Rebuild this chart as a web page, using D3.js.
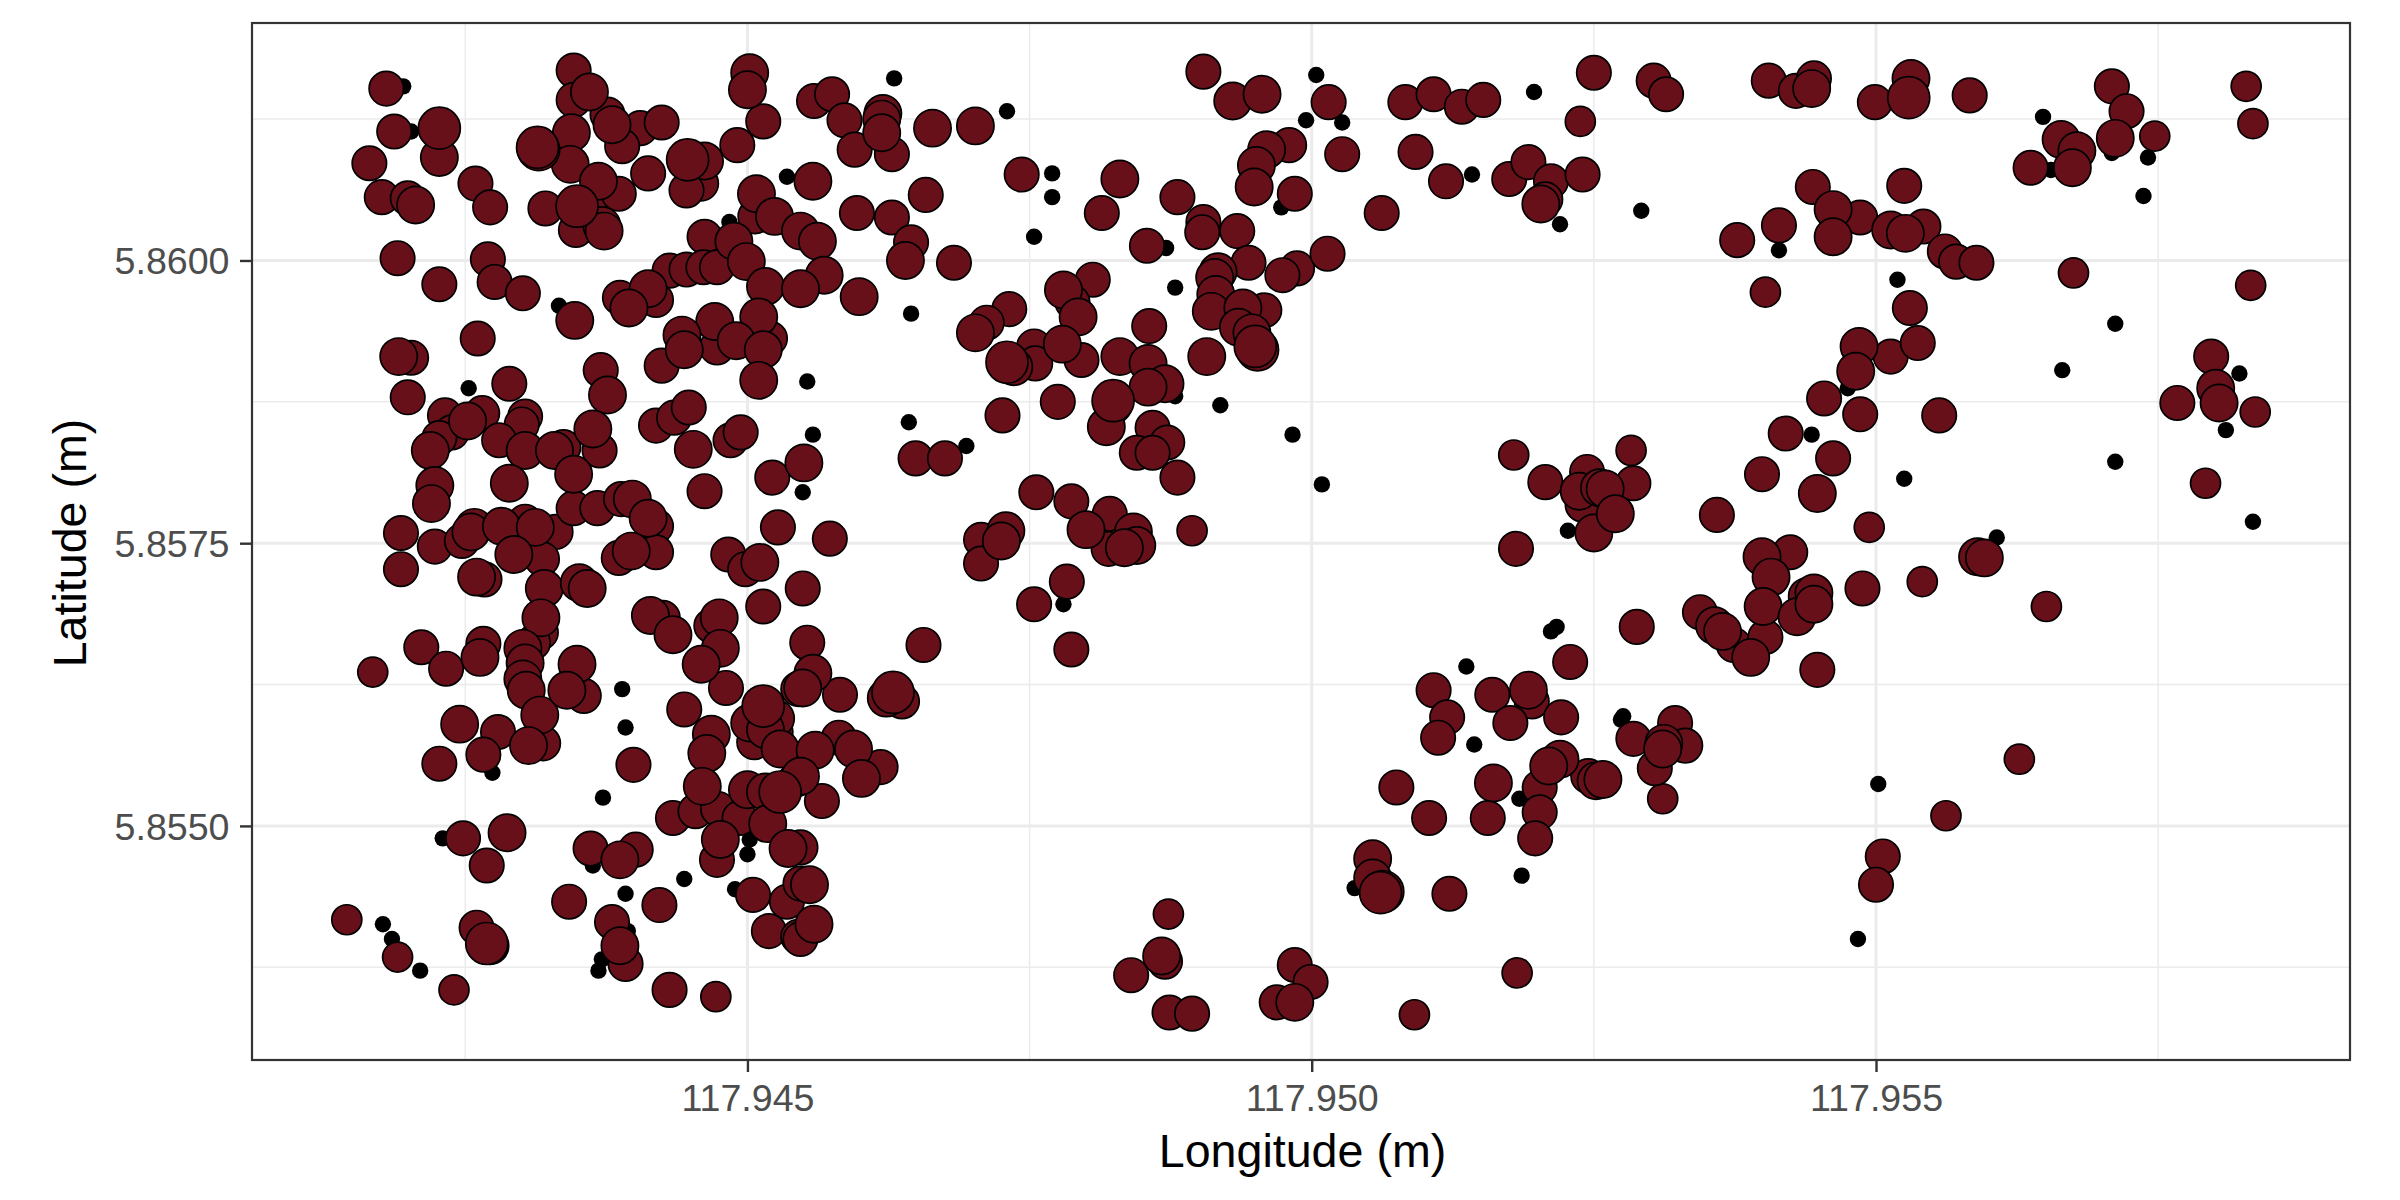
<!DOCTYPE html>
<html><head><meta charset="utf-8">
<script src="https://cdn.jsdelivr.net/npm/d3@7"></script>
<style>html,body{margin:0;padding:0;background:#fff}svg{display:block}text{font-family:"Liberation Sans",Arial,sans-serif}</style>
</head><body><div id="chart"></div>
<script>
const lonTicks=[117.945,117.950,117.955];
const latTicks=[5.855,5.8575,5.860];
const lonMinor=[117.9425,117.9475,117.9525,117.9575];
const latMinor=[5.85375,5.85625,5.85875,5.86125];
const xTitle="Longitude (m)", yTitle="Latitude (m)";
// [longitude, latitude, size class]: 0 smallest … 4 largest
const northWest=[[117.94195,5.86154,0],[117.94180,5.86152,2],[117.94346,5.86168,2],[117.94360,5.86149,3],[117.94346,5.86142,2],[117.94376,5.86129,2],[117.94380,5.86120,3],[117.94405,5.86117,2],[117.94424,5.86122,2],[117.94187,5.86114,2],[117.94227,5.86117,4],[117.94227,5.86091,3],[117.94202,5.86114,0],[117.94165,5.86086,2],[117.94315,5.86098,4],[117.94314,5.86100,4],[117.94344,5.86113,3],[117.94343,5.86085,3],[117.94389,5.86101,2],[117.94412,5.86077,2],[117.94447,5.86089,4],[117.94462,5.86088,3],[117.94459,5.86068,2],[117.94446,5.86062,2],[117.94491,5.86102,2],[117.94502,5.86166,3],[117.94500,5.86151,3],[117.94514,5.86123,2],[117.94535,5.86074,0],[117.94508,5.86059,3],[117.94524,5.86039,3],[117.94507,5.86039,2],[117.94259,5.86068,2],[117.94272,5.86047,2],[117.94176,5.86056,2],[117.94199,5.86055,2],[117.94206,5.86049,3],[117.94321,5.86046,2],[117.94349,5.86048,4],[117.94364,5.86054,2],[117.94368,5.86070,3],[117.94386,5.86059,2],[117.94348,5.86027,2],[117.94371,5.86031,3],[117.94373,5.86026,3],[117.94462,5.86021,2],[117.94488,5.86017,3],[117.94484,5.86034,0],[117.94499,5.85999,3],[117.94190,5.86002,2],[117.94270,5.86001,2],[117.94276,5.85981,2],[117.94227,5.85979,2],[117.94301,5.85971,2],[117.94431,5.85991,2],[117.94446,5.85992,2],[117.94461,5.85994,2],[117.94473,5.85994,2],[117.94412,5.85975,3],[117.94419,5.85965,2],[117.94387,5.85967,2],[117.94395,5.85958,3],[117.94333,5.85960,0],[117.94347,5.85947,3],[117.94516,5.85977,3],[117.94471,5.85946,3],[117.94510,5.85950,3],[117.94442,5.85934,3],[117.94444,5.85921,3],[117.94473,5.85923,2],[117.94490,5.85929,3],[117.94514,5.85921,3],[117.94520,5.85931,2],[117.94510,5.85894,3],[117.94424,5.85907,2],[117.94261,5.85931,2],[117.94191,5.85915,3],[117.94202,5.85914,2],[117.94370,5.85903,2],[117.94376,5.85881,3],[117.94253,5.85887,0],[117.94289,5.85891,2],[117.94199,5.85879,2],[117.94232,5.85863,2],[117.94265,5.85865,2],[117.94252,5.85858,3],[117.94238,5.85848,2],[117.94227,5.85843,2],[117.94219,5.85832,3],[117.94303,5.85862,2],[117.94300,5.85855,2],[117.94280,5.85841,2],[117.94303,5.85832,3],[117.94329,5.85832,3],[117.94337,5.85835,2],[117.94363,5.85851,3],[117.94369,5.85832,2],[117.94346,5.85811,3],[117.94289,5.85803,3],[117.94419,5.85854,2],[117.94435,5.85861,2],[117.94448,5.85870,2],[117.94452,5.85833,3],[117.94485,5.85841,2],[117.94494,5.85848,2],[117.94462,5.85796,2],[117.94522,5.85808,2],[117.94223,5.85801,3],[117.94220,5.85785,3],[117.94193,5.85759,2],[117.94193,5.85727,2],[117.94223,5.85747,2],[117.94247,5.85752,2],[117.94258,5.85764,3],[117.94255,5.85760,3],[117.94282,5.85765,3],[117.94303,5.85769,2],[117.94312,5.85764,3],[117.94330,5.85760,2],[117.94346,5.85781,2],[117.94367,5.85781,2],[117.94388,5.85789,2],[117.94398,5.85789,3],[117.94412,5.85772,3],[117.94419,5.85765,2],[117.94386,5.85737,2],[117.94397,5.85743,3],[117.94419,5.85742,2],[117.94483,5.85740,2],[117.94527,5.85764,2],[117.94511,5.85733,3],[117.94498,5.85727,2],[117.94293,5.85740,3],[117.94318,5.85736,2],[117.94260,5.85720,3],[117.94267,5.85718,2],[117.94320,5.85710,3],[117.94351,5.85715,3],[117.94358,5.85710,3]];
const southWest=[[117.94317,5.85684,3],[117.94317,5.85671,2],[117.94211,5.85658,2],[117.94266,5.85661,2],[117.94263,5.85649,3],[117.94233,5.85639,2],[117.94168,5.85636,1],[117.94301,5.85657,3],[117.94310,5.85662,2],[117.94303,5.85644,3],[117.94301,5.85630,3],[117.94304,5.85620,3],[117.94316,5.85598,3],[117.94349,5.85643,3],[117.94340,5.85620,3],[117.94355,5.85615,2],[117.94245,5.85590,3],[117.94279,5.85583,2],[117.94266,5.85563,2],[117.94306,5.85571,3],[117.94319,5.85573,2],[117.94227,5.85555,2],[117.94274,5.85547,0],[117.94389,5.85621,0],[117.94392,5.85587,0],[117.94399,5.85554,2],[117.94444,5.85603,2],[117.94468,5.85581,3],[117.94464,5.85564,3],[117.94414,5.85686,3],[117.94425,5.85684,2],[117.94434,5.85669,3],[117.94475,5.85684,3],[117.94468,5.85677,2],[117.94476,5.85657,3],[117.94459,5.85643,3],[117.94481,5.85622,2],[117.94514,5.85694,2],[117.94372,5.85525,0],[117.94460,5.85535,3],[117.94434,5.85507,2],[117.94454,5.85513,2],[117.94474,5.85515,2],[117.94500,5.85532,3],[117.94493,5.85507,2],[117.94514,5.85606,4],[117.94502,5.85591,3],[117.94525,5.85595,3],[117.94516,5.85585,3],[117.94525,5.85583,2],[117.94506,5.85574,2],[117.94529,5.85568,3],[117.94545,5.85621,2],[117.94543,5.85541,2],[117.94529,5.85530,4],[117.94516,5.85530,3],[117.94518,5.85502,3],[117.94536,5.85480,3],[117.94476,5.85488,3],[117.94473,5.85470,2],[117.94502,5.85488,0],[117.94500,5.85475,0],[117.94444,5.85453,0],[117.94489,5.85444,0],[117.94505,5.85439,2],[117.94535,5.85433,2],[117.94519,5.85407,2],[117.94545,5.85402,2],[117.94547,5.85449,2],[117.94230,5.85489,0],[117.94248,5.85489,2],[117.94287,5.85494,3],[117.94269,5.85465,2],[117.94361,5.85480,2],[117.94401,5.85479,2],[117.94387,5.85470,3],[117.94363,5.85465,0],[117.94392,5.85440,0],[117.94342,5.85433,2],[117.94422,5.85430,2],[117.94145,5.85417,1],[117.94177,5.85413,0],[117.94185,5.85400,0],[117.94190,5.85384,1],[117.94210,5.85372,0],[117.94260,5.85410,2],[117.94269,5.85396,4],[117.94272,5.85394,3],[117.94380,5.85415,2],[117.94394,5.85407,0],[117.94387,5.85394,3],[117.94371,5.85382,0],[117.94368,5.85372,0],[117.94392,5.85378,2],[117.94240,5.85355,1],[117.94431,5.85355,2],[117.94472,5.85349,1]];
const northCentral=[[117.94559,5.86141,2],[117.94575,5.86147,2],[117.94586,5.86124,2],[117.94620,5.86130,3],[117.94619,5.86125,3],[117.94619,5.86113,3],[117.94595,5.86098,2],[117.94628,5.86094,2],[117.94630,5.86161,0],[117.94664,5.86117,3],[117.94702,5.86119,3],[117.94730,5.86132,0],[117.94558,5.86070,3],[117.94658,5.86058,2],[117.94597,5.86042,2],[117.94628,5.86038,2],[117.94645,5.86016,2],[117.94640,5.86000,3],[117.94683,5.85998,2],[117.94547,5.86026,3],[117.94562,5.86017,3],[117.94568,5.85987,3],[117.94547,5.85975,3],[117.94599,5.85968,3],[117.94645,5.85953,0],[117.94553,5.85893,0],[117.94558,5.85846,0],[117.94643,5.85857,0],[117.94550,5.85821,3],[117.94549,5.85795,0],[117.94694,5.85836,0],[117.94649,5.85825,2],[117.94675,5.85825,2],[117.94726,5.85863,2],[117.94775,5.85875,2],[117.94573,5.85754,2],[117.94549,5.85710,2],[117.94743,5.86076,2],[117.94770,5.86077,0],[117.94770,5.86056,0],[117.94754,5.86021,0],[117.94830,5.86072,3],[117.94814,5.86042,2],[117.94881,5.86056,2],[117.94904,5.86034,2],[117.94903,5.86025,2],[117.94934,5.86026,2],[117.94854,5.86013,2],[117.94871,5.86011,0],[117.94879,5.85976,0],[117.94904,5.86167,2],[117.94930,5.86141,3],[117.94956,5.86147,3],[117.95004,5.86164,0],[117.95015,5.86140,2],[117.94995,5.86124,0],[117.95027,5.86122,0],[117.95027,5.86094,2],[117.95083,5.86140,2],[117.95108,5.86147,2],[117.95133,5.86136,2],[117.95152,5.86142,2],[117.95197,5.86149,0],[117.95250,5.86166,2],[117.95238,5.86123,1],[117.95092,5.86096,2],[117.95119,5.86070,2],[117.95142,5.86076,0],[117.95062,5.86042,2],[117.95175,5.86072,2],[117.95192,5.86087,2],[117.95212,5.86070,2],[117.95240,5.86076,2],[117.95207,5.86054,2],[117.95203,5.86050,3],[117.95220,5.86032,0],[117.94980,5.86102,2],[117.94960,5.86098,3],[117.94951,5.86084,3],[117.94949,5.86065,3],[117.94985,5.86059,2],[117.94973,5.86047,0],[117.94944,5.85998,2],[117.94917,5.85990,3],[117.94914,5.85985,3],[117.94987,5.85993,2],[117.94974,5.85987,2],[117.95014,5.86006,2],[117.94915,5.85970,3],[117.94911,5.85955,3],[117.94939,5.85958,3],[117.94958,5.85956,2],[117.94935,5.85941,3],[117.94947,5.85936,3],[117.94952,5.85921,4],[117.94950,5.85924,4],[117.94907,5.85915,3],[117.94806,5.85983,2],[117.94780,5.85974,3],[117.94788,5.85963,2],[117.94793,5.85950,3],[117.94856,5.85942,2],[117.94732,5.85957,2],[117.94712,5.85945,2],[117.94702,5.85936,3],[117.94754,5.85924,2],[117.94779,5.85926,3],[117.94755,5.85909,2],[117.94796,5.85912,2],[117.94830,5.85915,3],[117.94855,5.85909,3],[117.94736,5.85906,3],[117.94730,5.85910,4],[117.94870,5.85891,3],[117.94855,5.85888,3],[117.94879,5.85880,0],[117.94919,5.85872,0],[117.94983,5.85846,0],[117.95009,5.85802,0],[117.94824,5.85876,4],[117.94824,5.85872,3],[117.94818,5.85853,3],[117.94859,5.85852,2],[117.94872,5.85839,2],[117.94845,5.85830,2],[117.94859,5.85830,2],[117.94881,5.85808,2],[117.94756,5.85795,2],[117.94787,5.85787,2],[117.94800,5.85762,3],[117.94821,5.85776,2],[117.94842,5.85760,3],[117.94845,5.85748,3],[117.94834,5.85746,3],[117.94820,5.85745,2],[117.94894,5.85761,1],[117.94729,5.85761,3],[117.94725,5.85752,3],[117.94707,5.85753,2],[117.94707,5.85732,2],[117.94783,5.85716,2],[117.94754,5.85696,2],[117.94780,5.85696,0],[117.95179,5.85828,1],[117.95207,5.85804,2],[117.95244,5.85813,2],[117.95237,5.85796,3],[117.95240,5.85784,2],[117.95255,5.85799,3],[117.95227,5.85761,0],[117.95181,5.85745,2],[117.95250,5.85759,3]];
const southCentral=[[117.94553,5.85662,2],[117.94558,5.85635,3],[117.94549,5.85622,3],[117.94582,5.85616,2],[117.94629,5.85618,4],[117.94623,5.85613,3],[117.94637,5.85610,2],[117.94581,5.85578,2],[117.94560,5.85567,3],[117.94594,5.85568,3],[117.94618,5.85552,2],[117.94601,5.85542,3],[117.94547,5.85544,3],[117.94566,5.85522,2],[117.94656,5.85660,2],[117.94787,5.85656,2],[117.94547,5.85481,2],[117.94555,5.85448,3],[117.94559,5.85413,3],[117.94547,5.85400,2],[117.94873,5.85422,1],[117.94867,5.85385,3],[117.94870,5.85380,2],[117.94840,5.85368,2],[117.94874,5.85335,2],[117.94894,5.85334,2],[117.94985,5.85377,2],[117.94999,5.85362,2],[117.94969,5.85344,2],[117.94985,5.85344,3],[117.95091,5.85333,1],[117.95054,5.85471,3],[117.95054,5.85454,3],[117.95063,5.85442,4],[117.95061,5.85441,4],[117.95038,5.85445,0],[117.95122,5.85440,2],[117.95182,5.85370,1],[117.95186,5.85456,0],[117.95137,5.85641,0],[117.95144,5.85572,0],[117.95108,5.85620,2],[117.95120,5.85596,2],[117.95112,5.85578,2],[117.95160,5.85616,2],[117.95195,5.85610,2],[117.95192,5.85620,3],[117.95176,5.85591,2],[117.95221,5.85596,2],[117.95229,5.85645,2],[117.95212,5.85672,0],[117.95217,5.85676,0],[117.95075,5.85534,2],[117.95104,5.85507,2],[117.95156,5.85507,2],[117.95161,5.85538,3],[117.95184,5.85524,0],[117.95202,5.85534,2],[117.95220,5.85559,3],[117.95210,5.85553,3],[117.95202,5.85512,2],[117.95198,5.85489,2],[117.95245,5.85544,2],[117.95252,5.85540,3]];
const northEast=[[117.95303,5.86159,2],[117.95314,5.86147,2],[117.95405,5.86159,2],[117.95429,5.86150,2],[117.95445,5.86161,2],[117.95443,5.86152,3],[117.95499,5.86140,2],[117.95531,5.86161,3],[117.95529,5.86144,4],[117.95583,5.86146,2],[117.95709,5.86154,2],[117.95722,5.86132,2],[117.95712,5.86108,3],[117.95747,5.86110,1],[117.95828,5.86154,1],[117.95834,5.86121,1],[117.95648,5.86127,0],[117.95664,5.86107,3],[117.95678,5.86097,3],[117.95674,5.86082,3],[117.95637,5.86082,2],[117.95655,5.86080,0],[117.95709,5.86095,0],[117.95741,5.86091,0],[117.95737,5.86057,0],[117.95292,5.86044,0],[117.95444,5.86065,2],[117.95462,5.86045,3],[117.95486,5.86038,2],[117.95525,5.86066,2],[117.95377,5.86018,2],[117.95414,5.86031,2],[117.95414,5.86009,0],[117.95462,5.86021,3],[117.95513,5.86027,3],[117.95526,5.86024,3],[117.95542,5.86030,2],[117.95561,5.86008,2],[117.95571,5.85999,2],[117.95589,5.85998,2],[117.95675,5.85989,1],[117.95832,5.85978,1],[117.95519,5.85983,0],[117.95402,5.85972,1],[117.95530,5.85958,2],[117.95485,5.85924,3],[117.95513,5.85915,2],[117.95537,5.85927,2],[117.95482,5.85902,3],[117.95475,5.85887,0],[117.95454,5.85878,2],[117.95486,5.85864,2],[117.95556,5.85863,2],[117.95712,5.85944,0],[117.95665,5.85903,0],[117.95797,5.85915,2],[117.95822,5.85900,0],[117.95801,5.85887,3],[117.95804,5.85874,3],[117.95767,5.85874,2],[117.95836,5.85866,1],[117.95810,5.85850,0],[117.95712,5.85822,0],[117.95792,5.85803,1],[117.95420,5.85847,2],[117.95443,5.85846,0],[117.95462,5.85825,2],[117.95399,5.85811,2],[117.95283,5.85832,1],[117.95285,5.85803,2],[117.95260,5.85798,3],[117.95269,5.85776,3],[117.95448,5.85794,3],[117.95359,5.85775,2],[117.95525,5.85807,0],[117.95494,5.85764,1],[117.95834,5.85769,0],[117.95424,5.85742,2],[117.95399,5.85738,3],[117.95590,5.85738,3],[117.95596,5.85737,3],[117.95607,5.85755,0],[117.95541,5.85716,1],[117.95407,5.85720,3],[117.95488,5.85710,2],[117.95439,5.85703,3],[117.95445,5.85706,3],[117.95651,5.85694,1]];
const southEast=[[117.95288,5.85676,2],[117.95344,5.85689,2],[117.95357,5.85677,3],[117.95364,5.85672,3],[117.95374,5.85660,2],[117.95389,5.85649,3],[117.95402,5.85667,2],[117.95400,5.85694,3],[117.95430,5.85685,3],[117.95445,5.85696,3],[117.95448,5.85638,2],[117.95276,5.85597,0],[117.95274,5.85594,0],[117.95285,5.85577,2],[117.95322,5.85591,2],[117.95312,5.85573,3],[117.95311,5.85568,3],[117.95331,5.85571,2],[117.95304,5.85551,2],[117.95258,5.85541,3],[117.95311,5.85524,1],[117.95502,5.85537,0],[117.95562,5.85509,1],[117.95627,5.85559,1],[117.95506,5.85473,2],[117.95500,5.85448,2],[117.95484,5.85400,0]];

const W=2400,H=1200;
const panel={l:252,r:2350,t:23,b:1060};
const x=d3.scaleLinear().domain([117.94061,117.95920]).range([panel.l,panel.r]);
const y=d3.scaleLinear().domain([5.85293,5.86210]).range([panel.b,panel.t]);
const radius=d3.scaleOrdinal().domain([0,1,2,3,4]).range([8.2,15,17.2,18.6,21]);

const svg=d3.select("#chart").append("svg").attr("width",W).attr("height",H);
svg.append("rect").attr("width",W).attr("height",H).attr("fill","#fff");

const grid=svg.append("g").attr("stroke","#ebebeb").attr("fill","none");
grid.selectAll(".xm").data(lonMinor).join("line").attr("x1",d=>x(d)).attr("x2",d=>x(d)).attr("y1",panel.t).attr("y2",panel.b).attr("stroke-width",1.5);
grid.selectAll(".ym").data(latMinor).join("line").attr("y1",d=>y(d)).attr("y2",d=>y(d)).attr("x1",panel.l).attr("x2",panel.r).attr("stroke-width",1.5);
const gridMajorX=svg.append("g").attr("stroke","#ebebeb");
gridMajorX.selectAll("line").data(lonTicks).join("line").attr("x1",d=>x(d)).attr("x2",d=>x(d)).attr("y1",panel.t).attr("y2",panel.b).attr("stroke-width",3);
const gridMajorY=svg.append("g").attr("stroke","#ebebeb");
gridMajorY.selectAll("line").data(latTicks).join("line").attr("y1",d=>y(d)).attr("y2",d=>y(d)).attr("x1",panel.l).attr("x2",panel.r).attr("stroke-width",3);

const trees=[...northWest,...southWest,...northCentral,...southCentral,...northEast,...southEast]
  .map(([lon,lat,size])=>({lon,lat,size}));
const ordered=d3.sort(trees,d=>d.size);
svg.append("g").selectAll("circle").data(ordered).join("circle")
  .attr("cx",d=>x(d.lon)).attr("cy",d=>y(d.lat)).attr("r",d=>radius(d.size))
  .attr("fill",d=>d.size===0?"#000":"#67101a")
  .attr("stroke","#000").attr("stroke-width",d=>d.size===0?0:1.7);

svg.append("rect").attr("x",panel.l).attr("y",panel.t).attr("width",panel.r-panel.l).attr("height",panel.b-panel.t)
  .attr("fill","none").attr("stroke","#333").attr("stroke-width",2.2);

const xAxis=d3.axisBottom(x).tickValues(lonTicks).tickFormat(d3.format(".3f")).tickSize(12).tickPadding(10);
const yAxis=d3.axisLeft(y).tickValues(latTicks).tickFormat(d3.format(".4f")).tickSize(12).tickPadding(10);
const gx=svg.append("g").attr("transform",`translate(0,${panel.b})`).call(xAxis);
const gy=svg.append("g").attr("transform",`translate(${panel.l},0)`).call(yAxis);
[gx,gy].forEach(g=>{
  g.select(".domain").remove();
  g.selectAll(".tick line").attr("stroke","#333").attr("stroke-width",2.4);
  g.selectAll(".tick text").attr("fill","#4d4d4d").attr("font-size",37.6);
});
gx.selectAll(".tick text").attr("dy",null).attr("y",51);
gy.selectAll(".tick text").attr("x",-22.5).attr("dy",null).attr("y",13.5);

svg.append("text").attr("x",1302.5).attr("y",1167).attr("text-anchor","middle").attr("font-size",46.6).attr("fill","#000").text(xTitle);
svg.append("text").attr("transform",`translate(85.5,543) rotate(-90)`).attr("text-anchor","middle").attr("font-size",46.6).attr("fill","#000").text(yTitle);
</script></body></html>
